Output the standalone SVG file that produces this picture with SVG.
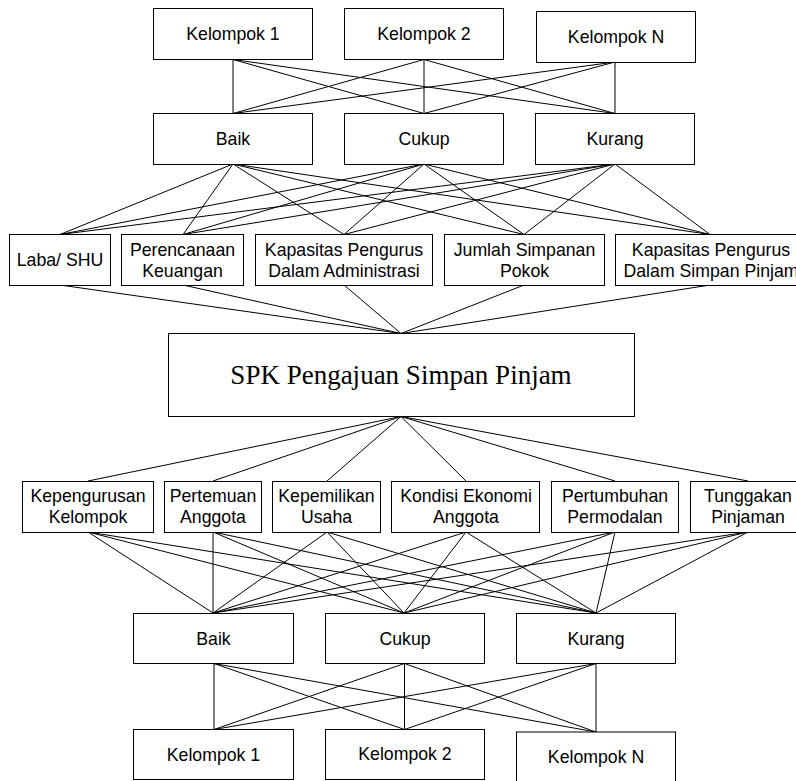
<svg xmlns="http://www.w3.org/2000/svg" width="796" height="781" viewBox="0 0 796 781">
<style>
rect{fill:#fff;stroke:#000;stroke-width:1}
text{font-family:"Liberation Sans",Arial,sans-serif;font-size:17.7px;fill:#000;text-anchor:middle}
.serif{font-family:"Liberation Serif","Times New Roman",serif;font-size:27px}
#connectors line{stroke:#000;stroke-width:1}
</style>
<g id="connectors">
<line x1="233" y1="59.5" x2="233" y2="113.5"/>
<line x1="233" y1="59.5" x2="424" y2="113.5"/>
<line x1="233" y1="59.5" x2="615" y2="113.5"/>
<line x1="424" y1="59.5" x2="233" y2="113.5"/>
<line x1="424" y1="59.5" x2="424" y2="113.5"/>
<line x1="424" y1="59.5" x2="615" y2="113.5"/>
<line x1="615" y1="62" x2="233" y2="113.5"/>
<line x1="615" y1="62" x2="424" y2="113.5"/>
<line x1="615" y1="62" x2="615" y2="113.5"/>
<line x1="233" y1="164" x2="60" y2="234.5"/>
<line x1="233" y1="164" x2="183" y2="234.5"/>
<line x1="233" y1="164" x2="344" y2="234.5"/>
<line x1="233" y1="164" x2="524" y2="234.5"/>
<line x1="233" y1="164" x2="710" y2="234.5"/>
<line x1="424" y1="164" x2="60" y2="234.5"/>
<line x1="424" y1="164" x2="183" y2="234.5"/>
<line x1="424" y1="164" x2="344" y2="234.5"/>
<line x1="424" y1="164" x2="524" y2="234.5"/>
<line x1="424" y1="164" x2="710" y2="234.5"/>
<line x1="615" y1="164" x2="60" y2="234.5"/>
<line x1="615" y1="164" x2="183" y2="234.5"/>
<line x1="615" y1="164" x2="344" y2="234.5"/>
<line x1="615" y1="164" x2="524" y2="234.5"/>
<line x1="615" y1="164" x2="710" y2="234.5"/>
<line x1="60" y1="285" x2="401" y2="333.5"/>
<line x1="183" y1="285" x2="401" y2="333.5"/>
<line x1="344" y1="285" x2="401" y2="333.5"/>
<line x1="524" y1="285" x2="401" y2="333.5"/>
<line x1="710" y1="285" x2="401" y2="333.5"/>
<line x1="401" y1="416.5" x2="88" y2="481"/>
<line x1="401" y1="416.5" x2="213" y2="481"/>
<line x1="401" y1="416.5" x2="327" y2="481"/>
<line x1="401" y1="416.5" x2="466" y2="481"/>
<line x1="401" y1="416.5" x2="615" y2="481"/>
<line x1="401" y1="416.5" x2="748" y2="481"/>
<line x1="88" y1="532" x2="213" y2="613"/>
<line x1="88" y1="532" x2="404" y2="613"/>
<line x1="88" y1="532" x2="596" y2="613"/>
<line x1="213" y1="532" x2="213" y2="613"/>
<line x1="213" y1="532" x2="404" y2="613"/>
<line x1="213" y1="532" x2="596" y2="613"/>
<line x1="327" y1="532" x2="213" y2="613"/>
<line x1="327" y1="532" x2="404" y2="613"/>
<line x1="327" y1="532" x2="596" y2="613"/>
<line x1="466" y1="532" x2="213" y2="613"/>
<line x1="466" y1="532" x2="404" y2="613"/>
<line x1="466" y1="532" x2="596" y2="613"/>
<line x1="615" y1="532" x2="213" y2="613"/>
<line x1="615" y1="532" x2="404" y2="613"/>
<line x1="615" y1="532" x2="596" y2="613"/>
<line x1="748" y1="532" x2="213" y2="613"/>
<line x1="748" y1="532" x2="404" y2="613"/>
<line x1="748" y1="532" x2="596" y2="613"/>
<line x1="214" y1="663.5" x2="214" y2="729.5"/>
<line x1="214" y1="663.5" x2="404.5" y2="729.5"/>
<line x1="214" y1="663.5" x2="596" y2="732"/>
<line x1="404.5" y1="663.5" x2="214" y2="729.5"/>
<line x1="404.5" y1="663.5" x2="404.5" y2="729.5"/>
<line x1="404.5" y1="663.5" x2="596" y2="732"/>
<line x1="596" y1="663.5" x2="214" y2="729.5"/>
<line x1="596" y1="663.5" x2="404.5" y2="729.5"/>
<line x1="596" y1="663.5" x2="596" y2="732"/>
</g>
<g id="top-kelompok-1"><rect x="153.5" y="8.5" width="159" height="51"/><text x="233" y="40">Kelompok 1</text></g>
<g id="top-kelompok-2"><rect x="344.5" y="8.5" width="159" height="51"/><text x="424" y="40">Kelompok 2</text></g>
<g id="top-kelompok-n"><rect x="536.5" y="11.5" width="159" height="51"/><text x="616" y="42.5">Kelompok N</text></g>
<g id="top-baik"><rect x="153.5" y="113.5" width="159" height="51"/><text x="233" y="145">Baik</text></g>
<g id="top-cukup"><rect x="344.5" y="113.5" width="159" height="51"/><text x="424" y="145">Cukup</text></g>
<g id="top-kurang"><rect x="535.5" y="113.5" width="159" height="51"/><text x="615" y="145">Kurang</text></g>
<g id="laba"><rect x="9.5" y="234.5" width="101" height="51"/><text x="60" y="266">Laba/ SHU</text></g>
<g id="perencanaan"><rect x="121.5" y="234.5" width="122" height="51"/><text x="182.5" y="255.5">Perencanaan</text><text x="182.5" y="276.5">Keuangan</text></g>
<g id="kapasitas-adm"><rect x="255.5" y="234.5" width="177" height="51"/><text x="344" y="255.5">Kapasitas Pengurus</text><text x="344" y="276.5">Dalam Administrasi</text></g>
<g id="jumlah-simpanan"><rect x="444.5" y="234.5" width="160" height="51"/><text x="524.5" y="255.5">Jumlah Simpanan</text><text x="524.5" y="276.5">Pokok</text></g>
<g id="kapasitas-sp"><rect x="615.5" y="234.5" width="190" height="51"/><text x="711" y="255.5">Kapasitas Pengurus</text><text x="711" y="276.5">Dalam Simpan Pinjam</text></g>
<g id="spk"><rect x="168.5" y="333.5" width="466" height="83"/><text class="serif" x="401" y="384">SPK Pengajuan Simpan Pinjam</text></g>
<g id="kepengurusan"><rect x="22.5" y="481.5" width="131" height="51"/><text x="88" y="502">Kepengurusan</text><text x="88" y="523">Kelompok</text></g>
<g id="pertemuan"><rect x="164.5" y="481.5" width="97" height="51"/><text x="213" y="502">Pertemuan</text><text x="213" y="523">Anggota</text></g>
<g id="kepemilikan"><rect x="272.5" y="481.5" width="108" height="51"/><text x="326.5" y="502">Kepemilikan</text><text x="326.5" y="523">Usaha</text></g>
<g id="kondisi"><rect x="391.5" y="481.5" width="148" height="51"/><text x="466" y="502">Kondisi Ekonomi</text><text x="466" y="523">Anggota</text></g>
<g id="pertumbuhan"><rect x="551.5" y="481.5" width="127" height="51"/><text x="615" y="502">Pertumbuhan</text><text x="615" y="523">Permodalan</text></g>
<g id="tunggakan"><rect x="690.5" y="481.5" width="116" height="51"/><text x="748" y="502">Tunggakan</text><text x="748" y="523">Pinjaman</text></g>
<g id="bottom-baik"><rect x="133.5" y="613.5" width="160" height="50"/><text x="213.5" y="644.5">Baik</text></g>
<g id="bottom-cukup"><rect x="325.5" y="613.5" width="159" height="50"/><text x="405" y="644.5">Cukup</text></g>
<g id="bottom-kurang"><rect x="516.5" y="613.5" width="159" height="50"/><text x="596" y="644.5">Kurang</text></g>
<g id="bottom-kelompok-1"><rect x="133.5" y="729.5" width="160" height="50"/><text x="213.5" y="760.5">Kelompok 1</text></g>
<g id="bottom-kelompok-2"><rect x="325.5" y="729.5" width="159" height="50"/><text x="405" y="760">Kelompok 2</text></g>
<g id="bottom-kelompok-n"><rect x="516.5" y="732" width="159" height="55"/><text x="596" y="763">Kelompok N</text></g>
</svg>
